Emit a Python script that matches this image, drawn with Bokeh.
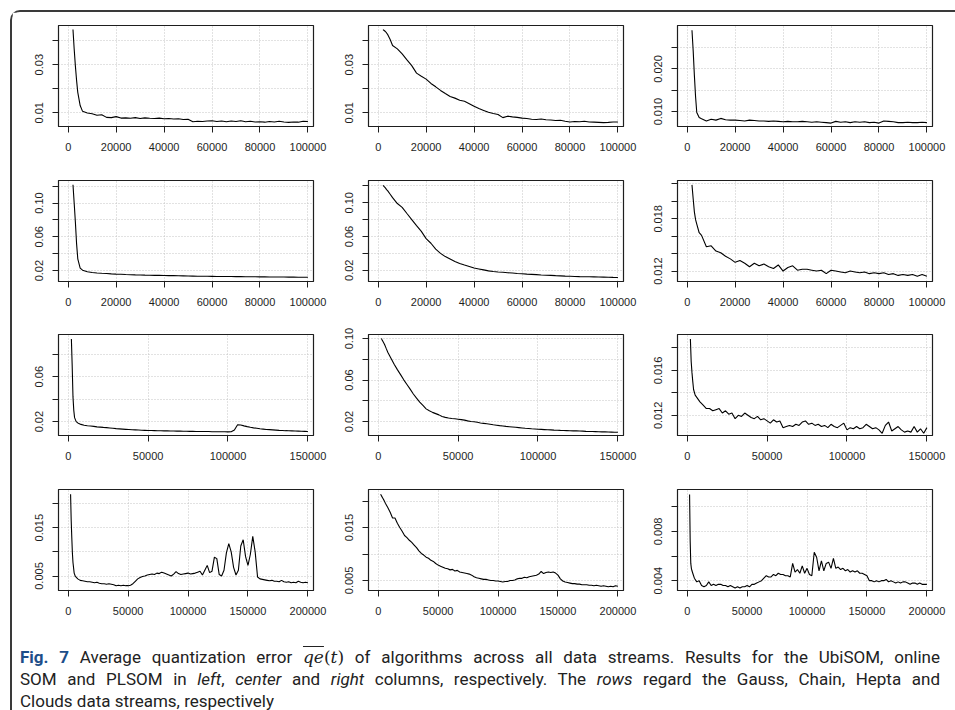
from bokeh.plotting import figure
from bokeh.models import Range1d, FixedTicker, Div
from bokeh.layouts import row, column
from bokeh.embed import file_html
from bokeh.resources import INLINE

# ---------------- data ----------------
x_head = [2000, 2500, 3000, 3500, 4000, 5000]
x_100k = x_head + list(range(6000, 100001, 2000))
x_150k = x_head + list(range(6000, 150001, 2000))
x_200k = x_head + list(range(6000, 200001, 2000))

# Row 1: Gauss  (UbiSOM, online SOM, PLSOM)
gauss_ubisom = [0.0446, 0.0365, 0.0295, 0.0235, 0.0185, 0.0130,
    0.0106, 0.0099, 0.0096, 0.0090, 0.0092, 0.0081, 0.0080, 0.0084,
    0.0078, 0.0079, 0.0077, 0.0080, 0.0076, 0.0079, 0.0077, 0.0076,
    0.0078, 0.0075, 0.0076, 0.0074, 0.0075, 0.0072, 0.0073, 0.0063,
    0.0065, 0.0064, 0.0066, 0.0067, 0.0064, 0.0066, 0.0063, 0.0066,
    0.0064, 0.0067, 0.0063, 0.0065, 0.0062, 0.0063, 0.0061, 0.0064,
    0.0062, 0.0065, 0.0062, 0.0060, 0.0062, 0.0061, 0.0065, 0.0064]
gauss_som = [0.0446, 0.0442, 0.0438, 0.0432, 0.0425, 0.0405,
    0.0380, 0.0366, 0.0345, 0.0320, 0.0296, 0.0265, 0.0252, 0.0240,
    0.0222, 0.0208, 0.0193, 0.0180, 0.0168, 0.0161, 0.0152, 0.0148,
    0.0138, 0.0127, 0.0118, 0.0110, 0.0102, 0.0097, 0.0093, 0.0080,
    0.0086, 0.0083, 0.0081, 0.0078, 0.0076, 0.0073, 0.0072, 0.0074,
    0.0071, 0.0070, 0.0068, 0.0069, 0.0065, 0.0062, 0.0064, 0.0063,
    0.0065, 0.0062, 0.0061, 0.0060, 0.0059, 0.0060, 0.0062, 0.0062]
gauss_plsom = [0.0291, 0.0243, 0.0185, 0.0135, 0.0098, 0.0086,
    0.0083, 0.0078, 0.0082, 0.0080, 0.0084, 0.0081, 0.0080, 0.0080,
    0.0079, 0.0078, 0.0080, 0.0079, 0.0078, 0.0078, 0.0077, 0.0078,
    0.0077, 0.0076, 0.0077, 0.0076, 0.0076, 0.0077, 0.0076, 0.0075,
    0.0076, 0.0075, 0.0074, 0.0073, 0.0077, 0.0075, 0.0076, 0.0074,
    0.0076, 0.0075, 0.0076, 0.0074, 0.0075, 0.0073, 0.0078, 0.0077,
    0.0076, 0.0074, 0.0074, 0.0075, 0.0074, 0.0074, 0.0075, 0.0074]

# Row 2: Chain
chain_ubisom = [0.1216, 0.1000, 0.0776, 0.0520, 0.0340, 0.0230,
    0.0205, 0.0186, 0.0178, 0.0172, 0.0168, 0.0165, 0.0161, 0.0158,
    0.0156, 0.0153, 0.0151, 0.0149, 0.0148, 0.0146, 0.0145, 0.0144,
    0.0143, 0.0142, 0.0141, 0.0140, 0.0139, 0.0138, 0.0136, 0.0135,
    0.0134, 0.0133, 0.0133, 0.0132, 0.0131, 0.0131, 0.0130, 0.0130,
    0.0129, 0.0129, 0.0128, 0.0128, 0.0127, 0.0126, 0.0126, 0.0125,
    0.0125, 0.0124, 0.0124, 0.0123, 0.0123, 0.0122, 0.0122, 0.0121]
chain_som = [0.1204, 0.1190, 0.1175, 0.1155, 0.1140, 0.1100,
    0.1060, 0.0990, 0.0945, 0.0872, 0.0800, 0.0728, 0.0660, 0.0575,
    0.0520, 0.0450, 0.0400, 0.0362, 0.0333, 0.0303, 0.0280, 0.0262,
    0.0245, 0.0226, 0.0216, 0.0205, 0.0193, 0.0186, 0.0180, 0.0176,
    0.0171, 0.0167, 0.0162, 0.0158, 0.0154, 0.0151, 0.0148, 0.0144,
    0.0141, 0.0139, 0.0136, 0.0134, 0.0131, 0.0129, 0.0127, 0.0125,
    0.0124, 0.0123, 0.0122, 0.0120, 0.0119, 0.0118, 0.0116, 0.0115]
chain_plsom = [0.0219, 0.0203, 0.0188, 0.0179, 0.0174, 0.0164,
    0.0161, 0.0148, 0.0149, 0.0143, 0.0141, 0.0137, 0.0134, 0.0130,
    0.0132, 0.0129, 0.0125, 0.0129, 0.0126, 0.0128, 0.0125, 0.0123,
    0.0127, 0.0120, 0.0124, 0.0126, 0.0121, 0.0122, 0.0122, 0.0121,
    0.0120, 0.0121, 0.0117, 0.0121, 0.0120, 0.0119, 0.0118, 0.0120,
    0.0119, 0.0118, 0.0119, 0.0117, 0.0118, 0.0117, 0.0118, 0.0116,
    0.0117, 0.0115, 0.0116, 0.0115, 0.0116, 0.0114, 0.0116, 0.0114]

# Row 3: Hepta
hepta_ubisom = [0.0935, 0.0700, 0.0420, 0.0300, 0.0235, 0.0200,
    0.0188, 0.0175, 0.0168, 0.0163, 0.0160, 0.0157, 0.0153, 0.0151,
    0.0148, 0.0146, 0.0143, 0.0140, 0.0137, 0.0135, 0.0133, 0.0131,
    0.0129, 0.0127, 0.0126, 0.0125, 0.0123, 0.0122, 0.0121, 0.0120,
    0.0119, 0.0118, 0.0118, 0.0117, 0.0117, 0.0116, 0.0116, 0.0115,
    0.0115, 0.0114, 0.0114, 0.0113, 0.0113, 0.0112, 0.0112, 0.0111,
    0.0111, 0.0111, 0.0110, 0.0110, 0.0110, 0.0109, 0.0109, 0.0108,
    0.0109, 0.0125, 0.0172, 0.0170, 0.0162, 0.0155, 0.0149, 0.0144,
    0.0140, 0.0136, 0.0133, 0.0130, 0.0128, 0.0126, 0.0124, 0.0122,
    0.0121, 0.0119, 0.0118, 0.0117, 0.0116, 0.0115, 0.0114, 0.0113,
    0.0112]
hepta_som = [0.1000, 0.0985, 0.0972, 0.0958, 0.0943, 0.0905,
    0.0868, 0.0810, 0.0752, 0.0700, 0.0652, 0.0602, 0.0557, 0.0512,
    0.0465, 0.0425, 0.0387, 0.0355, 0.0322, 0.0303, 0.0288, 0.0276,
    0.0264, 0.0248, 0.0240, 0.0234, 0.0229, 0.0226, 0.0222, 0.0218,
    0.0213, 0.0206, 0.0200, 0.0197, 0.0192, 0.0186, 0.0182, 0.0178,
    0.0173, 0.0168, 0.0164, 0.0160, 0.0157, 0.0153, 0.0150, 0.0147,
    0.0144, 0.0141, 0.0138, 0.0135, 0.0133, 0.0130, 0.0128, 0.0126,
    0.0124, 0.0122, 0.0120, 0.0119, 0.0117, 0.0116, 0.0114, 0.0113,
    0.0112, 0.0111, 0.0110, 0.0110, 0.0109, 0.0107, 0.0105, 0.0104,
    0.0103, 0.0102, 0.0101, 0.0100, 0.0100, 0.0099, 0.0098, 0.0097,
    0.0097]
hepta_plsom = [0.0188, 0.0168, 0.0158, 0.0150, 0.0143, 0.0138,
    0.0136, 0.0132, 0.0129, 0.0126, 0.0126, 0.0124, 0.0125, 0.0126,
    0.0122, 0.0124, 0.0121, 0.0122, 0.0117, 0.0120, 0.0119, 0.0122,
    0.0120, 0.0118, 0.0117, 0.0119, 0.0116, 0.0117, 0.0115, 0.0113,
    0.0116, 0.0114, 0.0115, 0.0109, 0.0110, 0.0111, 0.0110, 0.0112,
    0.0111, 0.0114, 0.0115, 0.0112, 0.0113, 0.0111, 0.0112, 0.0110,
    0.0111, 0.0109, 0.0112, 0.0110, 0.0109, 0.0111, 0.0113, 0.0107,
    0.0109, 0.0108, 0.0110, 0.0108, 0.0109, 0.0112, 0.0110, 0.0108,
    0.0109, 0.0107, 0.0104, 0.0111, 0.0114, 0.0106, 0.0108, 0.0110,
    0.0107, 0.0105, 0.0106, 0.0105, 0.0110, 0.0105, 0.0108, 0.0104,
    0.0109]

# Row 4: Clouds
clouds_ubisom = [0.0219, 0.0166, 0.0130, 0.0098, 0.0078, 0.0056,
    0.0049, 0.0044, 0.0041, 0.0040, 0.0039, 0.0038, 0.0038, 0.0037, 0.0036, 0.0037,
    0.0035, 0.0034, 0.0034, 0.0033, 0.0034, 0.0033, 0.0032, 0.0030, 0.0031, 0.0030,
    0.0031, 0.0030, 0.0030, 0.0031, 0.0034, 0.0039, 0.0044, 0.0047, 0.0049, 0.0050,
    0.0052, 0.0053, 0.0054, 0.0053, 0.0056, 0.0055, 0.0058, 0.0056, 0.0054, 0.0052,
    0.0050, 0.0054, 0.0059, 0.0055, 0.0053, 0.0054, 0.0055, 0.0056, 0.0054, 0.0055,
    0.0056, 0.0058, 0.0060, 0.0052, 0.0062, 0.0072, 0.0057, 0.0060, 0.0089, 0.0086,
    0.0053, 0.0050, 0.0062, 0.0098, 0.0117, 0.0100, 0.0068, 0.0052, 0.0062, 0.0112,
    0.0125, 0.0090, 0.0072, 0.0095, 0.0132, 0.0100, 0.0048, 0.0044, 0.0043, 0.0042,
    0.0041, 0.0040, 0.0041, 0.0039, 0.0039, 0.0038, 0.0041, 0.0038, 0.0037, 0.0038,
    0.0036, 0.0037, 0.0036, 0.0039, 0.0037, 0.0036, 0.0037, 0.0036]
clouds_som = [0.0213, 0.0211, 0.0209, 0.0207, 0.0205, 0.0201,
    0.0196, 0.0188, 0.0179, 0.0168, 0.0168, 0.0158, 0.0150, 0.0143, 0.0135, 0.0131,
    0.0126, 0.0122, 0.0117, 0.0112, 0.0106, 0.0101, 0.0098, 0.0094, 0.0092, 0.0088,
    0.0086, 0.0082, 0.0079, 0.0077, 0.0075, 0.0073, 0.0072, 0.0070, 0.0071, 0.0068,
    0.0069, 0.0066, 0.0065, 0.0064, 0.0063, 0.0062, 0.0060, 0.0057, 0.0055, 0.0054,
    0.0053, 0.0052, 0.0052, 0.0051, 0.0050, 0.0050, 0.0049, 0.0049, 0.0048, 0.0047,
    0.0048, 0.0048, 0.0050, 0.0050, 0.0051, 0.0053, 0.0054, 0.0054, 0.0056, 0.0055,
    0.0057, 0.0058, 0.0059, 0.0060, 0.0062, 0.0067, 0.0063, 0.0065, 0.0066, 0.0065,
    0.0066, 0.0064, 0.0060, 0.0053, 0.0049, 0.0047, 0.0046, 0.0045, 0.0044, 0.0044,
    0.0043, 0.0043, 0.0042, 0.0042, 0.0042, 0.0041, 0.0041, 0.0040, 0.0041, 0.0040,
    0.0039, 0.0040, 0.0039, 0.0038, 0.0039, 0.0038, 0.0040, 0.0039]
clouds_plsom = [0.0110, 0.0072, 0.0054, 0.0050, 0.0048, 0.0045,
    0.0042, 0.0039, 0.0040, 0.0036, 0.0035, 0.0036, 0.0039, 0.0036, 0.0037, 0.0036,
    0.0037, 0.0037, 0.0036, 0.0036, 0.0035, 0.0036, 0.0035, 0.0034, 0.0035, 0.0034,
    0.0035, 0.0035, 0.0036, 0.0035, 0.0037, 0.0037, 0.0038, 0.0039, 0.0040, 0.0042,
    0.0044, 0.0043, 0.0043, 0.0045, 0.0044, 0.0046, 0.0045, 0.0045, 0.0044, 0.0044,
    0.0043, 0.0054, 0.0047, 0.0049, 0.0046, 0.0052, 0.0046, 0.0050, 0.0045, 0.0044,
    0.0063, 0.0059, 0.0048, 0.0056, 0.0048, 0.0054, 0.0055, 0.0050, 0.0058, 0.0050,
    0.0051, 0.0049, 0.0050, 0.0048, 0.0049, 0.0047, 0.0048, 0.0047, 0.0048, 0.0046,
    0.0046, 0.0045, 0.0044, 0.0040, 0.0040, 0.0039, 0.0040, 0.0039, 0.0040, 0.0040,
    0.0041, 0.0039, 0.0040, 0.0039, 0.0038, 0.0039, 0.0038, 0.0039, 0.0039, 0.0038,
    0.0037, 0.0038, 0.0038, 0.0037, 0.0038, 0.0037, 0.0037, 0.0037]

# tick values and labels
xticks_100k = [0, 20000, 40000, 60000, 80000, 100000]
xlabels_100k = ["0", "20000", "40000", "60000", "80000", "100000"]
xticks_150k = [0, 50000, 100000, 150000]
xlabels_150k = ["0", "50000", "100000", "150000"]
xticks_200k = [0, 50000, 100000, 150000, 200000]
xlabels_200k = ["0", "50000", "100000", "150000", "200000"]

yticks_gauss = [0.01, 0.02, 0.03, 0.04]
ylabels_gauss = ["0.01", "", "0.03", ""]
yticks_gauss_pl = [0.010, 0.015, 0.020, 0.025]
ylabels_gauss_pl = ["0.010", "", "0.020", ""]
yticks_chain = [0.02, 0.04, 0.06, 0.08, 0.10, 0.12]
ylabels_chain = ["0.02", "", "0.06", "", "0.10", ""]
yticks_chain_pl = [0.012, 0.014, 0.016, 0.018, 0.020, 0.022]
ylabels_chain_pl = ["0.012", "", "", "0.018", "", ""]
yticks_hepta = [0.02, 0.04, 0.06, 0.08]
ylabels_hepta = ["0.02", "", "0.06", ""]
yticks_hepta_som = [0.02, 0.04, 0.06, 0.08, 0.10]
ylabels_hepta_som = ["0.02", "", "0.06", "", "0.10"]
yticks_hepta_pl = [0.012, 0.014, 0.016, 0.018]
ylabels_hepta_pl = ["0.012", "", "0.016", ""]
yticks_clouds = [0.005, 0.010, 0.015, 0.020]
ylabels_clouds = ["0.005", "", "0.015", ""]
yticks_clouds_pl = [0.004, 0.006, 0.008, 0.010]
ylabels_clouds_pl = ["0.004", "", "0.008", ""]

caption_lines = [
    "Average quantization error",
    "of algorithms across all data streams. Results for the UbiSOM, online",
    "SOM and PLSOM in", "left", ",", "center", "and", "right",
    "columns, respectively. The", "rows", "regard the Gauss, Chain, Hepta and",
    "Clouds data streams, respectively",
]

# ---------------- styling / layout ----------------
INK = "#1e1e1e"
XR_100K = (-4040, 102330)
XR_150K = (-6060, 153500)
XR_200K = (-8080, 204670)


def make_panel(xs, ys, xr, yr, xt, xl, yt, yl, mbl, mbr, mbt, mbb):
    p = figure(frame_width=255, frame_height=101,
               x_range=Range1d(*xr), y_range=Range1d(*yr),
               output_backend="svg", toolbar_location=None, title=None,
               min_border_left=mbl, min_border_right=mbr,
               min_border_top=mbt, min_border_bottom=mbb)
    p.line(xs, ys, line_color="black", line_width=1.1)
    p.outline_line_color = INK
    p.outline_line_width = 1.2
    p.outline_line_alpha = 1.0
    p.background_fill_color = "white"
    p.border_fill_color = "white"
    for ax, ticks, labels in ((p.xaxis[0], xt, xl), (p.yaxis[0], yt, yl)):
        ax.ticker = FixedTicker(ticks=ticks, minor_ticks=[])
        ax.major_label_overrides = dict(zip(ticks, labels))
        ax.axis_line_color = INK
        ax.axis_line_width = 1
        ax.major_tick_out = 6
        ax.major_tick_in = 0
        ax.major_tick_line_color = INK
        ax.minor_tick_line_color = None
        ax.major_label_text_font = "Liberation Sans"
        ax.major_label_text_font_size = "11px"
        ax.major_label_text_color = INK
    p.xaxis[0].major_label_standoff = 10
    p.yaxis[0].major_label_standoff = 9
    p.yaxis[0].major_label_orientation = "vertical"
    p.grid.grid_line_color = "#c4c4c4"
    p.grid.grid_line_dash = "1 2"
    p.grid.grid_line_width = 1
    return p


cols = [(46, 17), (38, 17), (37, 23)]
rows_b = [(13, 44), (10, 44), (9, 45), (9, 44)]

spec = [
    [(x_100k, gauss_ubisom, XR_100K, (0.0043, 0.0463), xticks_100k, xlabels_100k, yticks_gauss, ylabels_gauss),
     (x_100k, gauss_som, XR_100K, (0.0043, 0.0463), xticks_100k, xlabels_100k, yticks_gauss, ylabels_gauss),
     (x_100k, gauss_plsom, XR_100K, (0.0065, 0.0302), xticks_100k, xlabels_100k, yticks_gauss_pl, ylabels_gauss_pl)],
    [(x_100k, chain_ubisom, XR_100K, (0.0071, 0.1267), xticks_100k, xlabels_100k, yticks_chain, ylabels_chain),
     (x_100k, chain_som, XR_100K, (0.0067, 0.1263), xticks_100k, xlabels_100k, yticks_chain, ylabels_chain),
     (x_100k, chain_plsom, XR_100K, (0.0108, 0.0224), xticks_100k, xlabels_100k, yticks_chain_pl, ylabels_chain_pl)],
    [(x_150k, hepta_ubisom, XR_150K, (0.0076, 0.0976), xticks_150k, xlabels_150k, yticks_hepta, ylabels_hepta),
     (x_150k, hepta_som, XR_150K, (0.0065, 0.1039), xticks_150k, xlabels_150k, yticks_hepta_som, ylabels_hepta_som),
     (x_150k, hepta_plsom, XR_150K, (0.0102, 0.0192), xticks_150k, xlabels_150k, yticks_hepta_pl, ylabels_hepta_pl)],
    [(x_200k, clouds_ubisom, XR_200K, (0.0020, 0.0229), xticks_200k, xlabels_200k, yticks_clouds, ylabels_clouds),
     (x_200k, clouds_som, XR_200K, (0.0031, 0.0222), xticks_200k, xlabels_200k, yticks_clouds, ylabels_clouds),
     (x_200k, clouds_plsom, XR_200K, (0.0032, 0.0114), xticks_200k, xlabels_200k, yticks_clouds_pl, ylabels_clouds_pl)],
]

grid_rows = []
for r, row_spec in enumerate(spec):
    figs = []
    for c, s in enumerate(row_spec):
        mbl, mbr = cols[c]
        mbt, mbb = rows_b[r]
        figs.append(make_panel(*s, mbl, mbr, mbt, mbb))
    grid_rows.append(row(*figs))

serif = "font-family:'DejaVu Serif',serif;"
just = "text-align:justify;text-align-last:justify;white-space:nowrap;"
cl = caption_lines
html = (
    "<div style=\"font-family:Roboto,sans-serif;font-size:17px;line-height:22px;"
    "color:#222;height:76px;overflow:hidden;padding-top:12px;width:920px;box-sizing:border-box;\">"
    "<div style=\"" + just + "\">"
    "<b style=\"color:#1d4e89\">Fig. 7</b> " + cl[0] + " "
    "<span style=\"" + serif + "font-style:italic;text-decoration:overline;\">qe</span>"
    "<span style=\"" + serif + "\">(<i>t</i>)</span> " + cl[1] + "</div>"
    "<div style=\"" + just + "\">"
    + cl[2] + " <i>" + cl[3] + "</i>" + cl[4] + " <i>" + cl[5] + "</i> " + cl[6]
    + " <i>" + cl[7] + "</i> " + cl[8] + " <i>" + cl[9] + "</i> " + cl[10] + "</div>"
    "<div style=\"white-space:nowrap;\">" + cl[11] + "</div>"
    "</div>"
)
caption = Div(text=html, width=935, height=76, margin=(0, 0, 0, 8))

root = column(*grid_rows, caption, margin=(10, 0, 0, 10),
              styles={"border-top": "2px solid #3a3a3a",
                      "border-left": "2px solid #3a3a3a",
                      "border-top-left-radius": "10px"})

open("out.html", "w").write(file_html(root, INLINE))
